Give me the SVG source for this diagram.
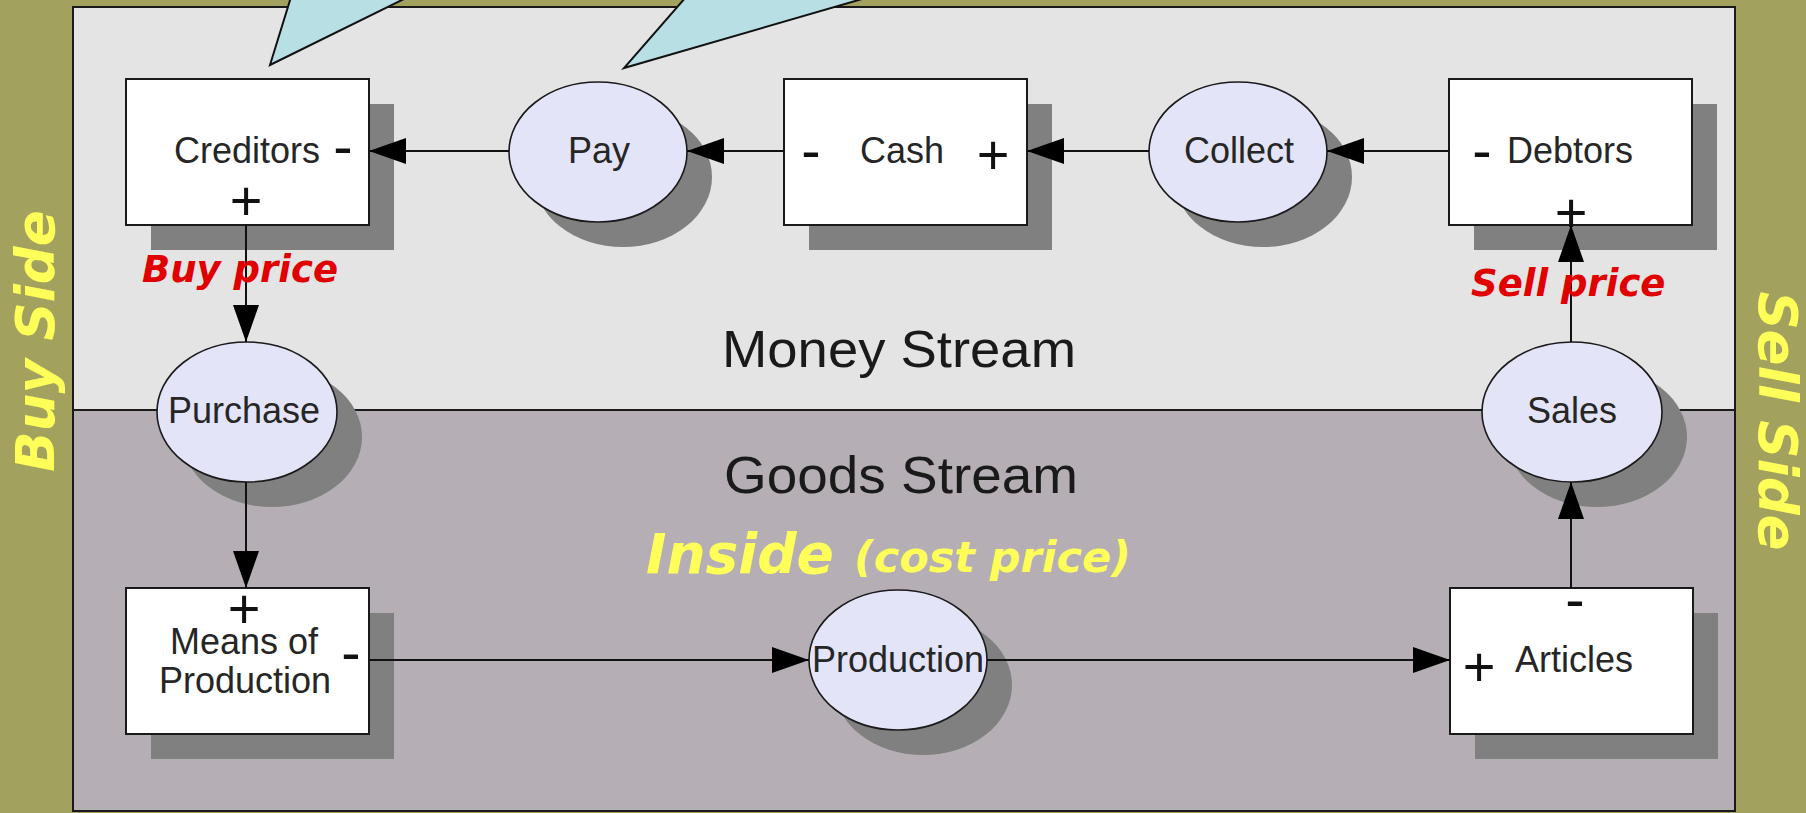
<svg xmlns="http://www.w3.org/2000/svg" width="1806" height="813" viewBox="0 0 1806 813">
  <defs>
    <style>
      .box { fill: #ffffff; stroke: #1a1a1a; stroke-width: 2; }
      .ell { fill: #e3e4f8; stroke: #1a1a1a; stroke-width: 1.6; }
      .shadow { fill: #808080; }
      .lbl { font-family: "Liberation Sans", Arial, sans-serif; font-size: 36px; fill: #262626; }
      .mid { text-anchor: middle; }
      .sign { font-family: "Liberation Sans", Arial, sans-serif; fill: #111111; text-anchor: middle; }
      .plus { font-size: 56px; }
      .minus { font-size: 58px; }
      .stream { font-family: "Liberation Sans", Arial, sans-serif; font-size: 52px; fill: #1a1a1a; text-anchor: middle; }
      .note { font-family: "DejaVu Sans", Verdana, sans-serif; font-weight: bold; font-style: italic; }
      .red { fill: #e00000; font-size: 37px; }
      .yellow { fill: #ffff5a; }
      .conn { fill: none; stroke: #111111; stroke-width: 2; marker-end: url(#arrow); }
      .callout { fill: #b8e0e4; stroke: #111111; stroke-width: 2; }
    </style>
    <marker id="arrow" markerUnits="userSpaceOnUse" markerWidth="37" markerHeight="26" viewBox="0 0 37 26" refX="37" refY="13" orient="auto">
      <path d="M0,0 L37,13 L0,26 z" fill="#000000"/>
    </marker>
  </defs>

  <!-- outer band -->
  <rect x="0" y="0" width="1806" height="813" fill="#a2a15d"/>

  <!-- panel: money stream (upper) and goods stream (lower) -->
  <rect x="73" y="7" width="1662" height="403" fill="#e4e4e4"/>
  <rect x="73" y="410" width="1662" height="401" fill="#b5afb5"/>
  <line x1="73" y1="410" x2="1735" y2="410" stroke="#1a1a1a" stroke-width="2"/>
  <rect x="73" y="7" width="1662" height="804" fill="none" stroke="#1a1a1a" stroke-width="2"/>

  <!-- side labels -->
  <text class="note yellow" font-size="53" text-anchor="middle" transform="translate(54,341) rotate(-90)">Buy Side</text>
  <text class="note yellow" font-size="53" text-anchor="middle" transform="translate(1759,421) rotate(90)">Sell Side</text>

  <!-- stream titles -->
  <text class="stream" x="899" y="367" textLength="354" lengthAdjust="spacingAndGlyphs">Money Stream</text>
  <text class="stream" x="901" y="493" textLength="354" lengthAdjust="spacingAndGlyphs">Goods Stream</text>
  <text class="note yellow" x="646" y="573" font-size="55">Inside</text>
  <text class="note yellow" x="854" y="572" font-size="43">(cost price)</text>

  <!-- nodes -->
  <g id="creditors">
    <rect class="shadow" x="151" y="104" width="243" height="146"/>
    <rect class="box" x="126" y="79" width="243" height="146"/>
    <text class="lbl mid" x="247" y="163">Creditors</text>
    <text class="sign minus" x="343" y="166">-</text>
    <text class="sign plus" x="246" y="220">+</text>
  </g>

  <g id="pay">
    <ellipse class="shadow" cx="623" cy="177" rx="89" ry="70"/>
    <ellipse class="ell" cx="598" cy="152" rx="89" ry="70"/>
    <text class="lbl mid" x="599" y="163">Pay</text>
  </g>

  <g id="cash">
    <rect class="shadow" x="809" y="104" width="243" height="146"/>
    <rect class="box" x="784" y="79" width="243" height="146"/>
    <text class="sign minus" x="811" y="170">-</text>
    <text class="lbl" x="860" y="163">Cash</text>
    <text class="sign plus" x="993" y="174">+</text>
  </g>

  <g id="collect">
    <ellipse class="shadow" cx="1263" cy="177" rx="89" ry="70"/>
    <ellipse class="ell" cx="1238" cy="152" rx="89" ry="70"/>
    <text class="lbl mid" x="1239" y="163">Collect</text>
  </g>

  <g id="debtors">
    <rect class="shadow" x="1474" y="104" width="243" height="146"/>
    <rect class="box" x="1449" y="79" width="243" height="146"/>
    <text class="sign minus" x="1482" y="170">-</text>
    <text class="lbl" x="1507" y="163">Debtors</text>
    <text class="sign plus" x="1571" y="232">+</text>
  </g>

  <g id="purchase">
    <ellipse class="shadow" cx="272" cy="437" rx="90" ry="70"/>
    <ellipse class="ell" cx="247" cy="412" rx="90" ry="70"/>
    <text class="lbl mid" x="244" y="423">Purchase</text>
  </g>

  <g id="sales">
    <ellipse class="shadow" cx="1597" cy="437" rx="90" ry="70"/>
    <ellipse class="ell" cx="1572" cy="412" rx="90" ry="70"/>
    <text class="lbl mid" x="1572" y="423">Sales</text>
  </g>

  <g id="means-of-production">
    <rect class="shadow" x="151" y="613" width="243" height="146"/>
    <rect class="box" x="126" y="588" width="243" height="146"/>
    <text class="sign plus" x="244" y="628" font-size="52">+</text>
    <text class="lbl mid" x="244" y="654">Means of</text>
    <text class="lbl mid" x="245" y="693">Production</text>
    <text class="sign minus" x="351" y="672">-</text>
  </g>

  <g id="production">
    <ellipse class="shadow" cx="923" cy="685" rx="89" ry="70"/>
    <ellipse class="ell" cx="898" cy="660" rx="89" ry="70"/>
    <text class="lbl mid" x="898" y="672">Production</text>
  </g>

  <g id="articles">
    <rect class="shadow" x="1475" y="613" width="243" height="146"/>
    <rect class="box" x="1450" y="588" width="243" height="146"/>
    <text class="sign minus" x="1575" y="619">-</text>
    <text class="sign plus" x="1479" y="686">+</text>
    <text class="lbl" x="1515" y="672">Articles</text>
  </g>

  <!-- connectors -->
  <g id="connectors">
    <path class="conn" d="M509,151 L369,151"/>
    <path class="conn" d="M784,151 L687,151"/>
    <path class="conn" d="M1149,151 L1027,151"/>
    <path class="conn" d="M1449,151 L1327,151"/>
    <path class="conn" d="M246,225 L246,342"/>
    <path class="conn" d="M246,482 L246,588"/>
    <path class="conn" d="M369,660 L809,660"/>
    <path class="conn" d="M987,660 L1450,660"/>
    <path class="conn" d="M1571,588 L1571,482"/>
    <path class="conn" d="M1571,342 L1571,225"/>
  </g>

  <!-- price annotations -->
  <text class="note red" x="142" y="282">Buy price</text>
  <text class="note red" x="1471" y="296">Sell price</text>

  <!-- callout pointers entering from above -->
  <polygon class="callout" points="291,-3 270,65 408,-3"/>
  <polygon class="callout" points="686,-3 624,68 869,-3"/>
</svg>
